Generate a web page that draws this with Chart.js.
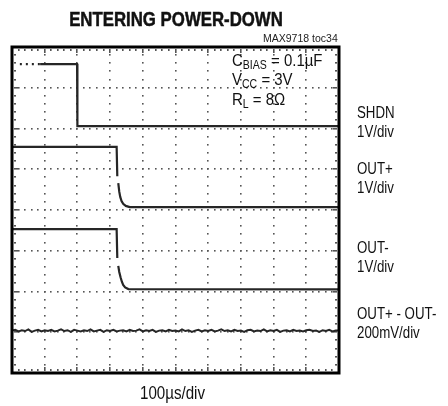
<!DOCTYPE html>
<html><head><meta charset="utf-8">
<script src="https://cdn.jsdelivr.net/npm/chart.js@4.4.0/dist/chart.umd.min.js"></script>
<style>
html,body{margin:0;padding:0;background:#fff;}
#wrap{position:relative;width:448px;height:406px;overflow:hidden;font-family:"Liberation Sans",Arial,sans-serif;color:#111;}
canvas{position:absolute;left:0;top:0;}
.t{position:absolute;white-space:nowrap;line-height:1;transform-origin:0 0;}
.lab{font-size:16px;left:357px;transform:scaleX(0.83);}
.ann{font-size:17px;left:232px;transform:scaleX(0.88);}
sub{font-size:12px;vertical-align:-3px;line-height:0;}
</style></head><body>
<div id="wrap">
<canvas id="c" width="448" height="406"></canvas>
<div class="t" style="left:0;width:352px;text-align:center;top:9px;font-size:20px;font-weight:bold;transform:scaleX(0.84);transform-origin:176px 0;-webkit-text-stroke:0.5px #111;">ENTERING POWER-DOWN</div>
<div class="t" style="left:263px;top:33px;font-size:10.5px;color:#222;">MAX9718 toc34</div>
<div class="t ann" style="top:52px;">C<sub>BIAS</sub> = 0.1µF</div>
<div class="t ann" style="top:71px;">V<sub>CC</sub> = 3V</div>
<div class="t ann" style="top:91px;">R<sub>L</sub> = 8Ω</div>
<div class="t lab" style="top:105px;">SHDN</div>
<div class="t lab" style="top:124px;">1V/div</div>
<div class="t lab" style="top:161px;">OUT+</div>
<div class="t lab" style="top:180px;">1V/div</div>
<div class="t lab" style="top:240px;">OUT-</div>
<div class="t lab" style="top:259px;">1V/div</div>
<div class="t lab" style="top:306px;">OUT+ - OUT-</div>
<div class="t lab" style="top:325px;">200mV/div</div>
<div class="t" style="left:140px;top:384px;font-size:18px;transform:scaleX(0.84);">100µs/div</div>
</div>
<script>
// time in µs (100 µs/div), levels in screen divisions (0 = bottom, 8 = top)
const shdnTime  = [24, 86, 199, 200, 1000];
const shdnLevel = [7.58, 7.58, 7.58, 6.06, 6.06];

const outPTime  = [0, 320, 322, 323, 325, 328, 331, 335, 340, 348, 360, 1000];
const outPLevel = [5.55, 5.55, 4.83, null, 4.66, 4.45, 4.32, 4.22, 4.15, 4.10, 4.07, 4.07];

const outNTime  = [0, 320, 322, 323, 325, 328, 332, 336, 340, 346, 356, 1000];
const outNLevel = [3.53, 3.53, 2.82, null, 2.63, 2.48, 2.35, 2.24, 2.16, 2.10, 2.06, 2.05];

const diffTime = [0,10,20,30,40,50,60,70,80,90,100,110,120,130,140,150,160,170,180,190,200,210,220,230,240,250,260,270,280,290,300,310,320,330,340,350,360,370,380,390,400,410,420,430,440,450,460,470,480,490,500,510,520,530,540,550,560,570,580,590,600,610,620,630,640,650,660,670,680,690,700,710,720,730,740,750,760,770,780,790,800,810,820,830,840,850,860,870,880,890,900,910,920,930,940,950,960,970,980,990,1000];
const diffLevel = [1.04,1.06,1.02,1.05,1.03,1.07,1.01,1.04,1.06,1.02,1.05,1.03,1.06,1.02,1.04,1.07,1.03,1.05,1.01,1.06,1.04,1.02,1.05,1.03,1.07,1.02,1.04,1.06,1.01,1.05,1.03,1.06,1.02,1.04,1.05,1.02,1.06,1.03,1.04,1.07,1.02,1.05,1.03,1.06,1.01,1.04,1.05,1.02,1.06,1.03,1.04,1.02,1.07,1.03,1.05,1.01,1.04,1.06,1.02,1.05,1.03,1.06,1.02,1.04,1.07,1.03,1.05,1.02,1.06,1.03,1.04,1.01,1.05,1.06,1.02,1.04,1.03,1.07,1.02,1.05,1.03,1.06,1.01,1.04,1.05,1.02,1.06,1.03,1.04,1.02,1.05,1.06,1.03,1.04,1.01,1.05,1.03,1.06,1.02,1.04,1.04];

const pts = (t, v) => t.map((x, i) => ({x: x, y: v[i]}));
const traceColor = '#262626';

const graticule = {
  id: 'graticule',
  beforeDatasetsDraw(chart) {
    const {ctx, chartArea: a, scales: {x, y}} = chart;
    ctx.save();
    ctx.fillStyle = '#555';
    for (let i = 1; i < 10; i++) {
      const px = x.getPixelForValue(i * 100);
      for (let j = 1; j < 40; j++) {
        const py = y.getPixelForValue(j * 0.2);
        ctx.fillRect(Math.round(px) - 1, Math.round(py) - 1, 1.6, 1.6);
      }
    }
    for (let k = 1; k < 8; k++) {
      const py = y.getPixelForValue(k);
      for (let m = 1; m < 50; m++) {
        const px = x.getPixelForValue(m * 20);
        ctx.fillRect(Math.round(px) - 1, Math.round(py) - 1, 1.6, 1.6);
      }
    }
    for (let m = 1; m < 50; m++) {
      const px = x.getPixelForValue(m * 20);
      const h = (m % 5 === 0) ? 4 : 2;
      ctx.fillRect(Math.round(px) - 1, a.top + 2, 1.6, h);
      ctx.fillRect(Math.round(px) - 1, a.bottom - 2 - h, 1.6, h);
    }
    for (let j = 1; j < 40; j++) {
      const py = y.getPixelForValue(j * 0.2);
      const w = (j % 5 === 0) ? 4 : 2;
      ctx.fillRect(a.left + 2, Math.round(py) - 1, w, 1.6);
      ctx.fillRect(a.right - 2 - w, Math.round(py) - 1, w, 1.6);
    }
    ctx.restore();
  },
  afterDatasetsDraw(chart) {
    const {ctx, chartArea: a} = chart;
    ctx.save();
    ctx.strokeStyle = '#000';
    ctx.lineWidth = 3;
    ctx.strokeRect(a.left, a.top, a.right - a.left, a.bottom - a.top);
    ctx.restore();
  }
};

new Chart(document.getElementById('c'), {
  type: 'line',
  data: {
    datasets: [
      {label: 'SHDN', data: pts(shdnTime, shdnLevel), borderColor: traceColor, borderWidth: 2.2,
       segment: {borderDash: c => c.p0DataIndex === 0 ? [2, 4] : undefined}},
      {label: 'OUT+', data: pts(outPTime, outPLevel), borderColor: traceColor, borderWidth: 2.2},
      {label: 'OUT-', data: pts(outNTime, outNLevel), borderColor: traceColor, borderWidth: 2.2},
      {label: 'OUT+ - OUT-', data: pts(diffTime, diffLevel), borderColor: traceColor, borderWidth: 2}
    ]
  },
  options: {
    responsive: false,
    animation: false,
    devicePixelRatio: 1,
    spanGaps: false,
    elements: {point: {radius: 0}, line: {tension: 0}},
    layout: {padding: {left: 12, top: 47, right: 109, bottom: 33}},
    plugins: {legend: {display: false}, tooltip: {enabled: false}, title: {display: false}},
    scales: {
      x: {type: 'linear', min: 0, max: 1000, display: false},
      y: {type: 'linear', min: 0, max: 8, display: false}
    }
  },
  plugins: [graticule]
});
</script>
</body></html>
